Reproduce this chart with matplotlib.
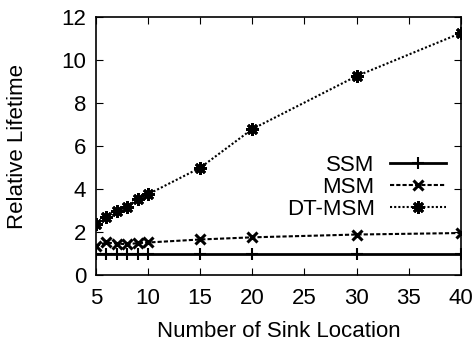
import matplotlib
matplotlib.use("Agg")
import matplotlib.pyplot as plt

plt.rcParams['font.family'] = ['Liberation Sans', 'DejaVu Sans']

x = [5, 6, 7, 8, 9, 10, 15, 20, 30, 40]
ssm = [1.0] * 10
msm = [1.36, 1.53, 1.48, 1.45, 1.50, 1.53, 1.67, 1.77, 1.90, 1.97]
dtmsm = [2.37, 2.73, 2.99, 3.19, 3.55, 3.77, 5.0, 6.8, 9.26, 11.26]
xticks = [5, 10, 15, 20, 25, 30, 35, 40]
yticks = [0, 2, 4, 6, 8, 10, 12]

fig = plt.figure(figsize=(4.77, 3.43), dpi=100)
ax = fig.add_axes([0.201, 0.197, 0.765, 0.753])

ax.plot(x, ssm, color='black', lw=2.0, marker='+', ms=8, mew=1.5, label='SSM')
ax.plot(x, msm, color='black', lw=1.5, ls=(0, (2, 1)), marker='x', ms=7, mew=2.2, label='MSM')
ax.plot(x, dtmsm, color='black', lw=1.5, ls=(0, (1, 1)), marker=(8, 2, 0), ms=9, mew=2.0, label='DT-MSM')

ax.set_xlim(5, 40)
ax.set_ylim(0, 12)
ax.set_xticks(xticks)
ax.set_yticks(yticks)
ax.tick_params(direction='in', top=True, right=True, labelsize=16, length=5)
ax.tick_params(axis='x', pad=9)
ax.tick_params(axis='y', pad=7)
for s in ax.spines.values():
    s.set_linewidth(1.2)
ax.set_xlabel('Number of Sink Location', fontsize=16, labelpad=9)
ax.set_ylabel('Relative Lifetime', fontsize=16, labelpad=24)

leg = ax.legend(loc='center right', bbox_to_anchor=(0.985, 0.34), markerfirst=False, frameon=False,
                fontsize=16, handlelength=2.55, labelspacing=0.05, handletextpad=0.68, borderaxespad=0)
for t in leg.get_texts():
    t.set_ha('right')

fig.savefig('out.png', dpi=100)
